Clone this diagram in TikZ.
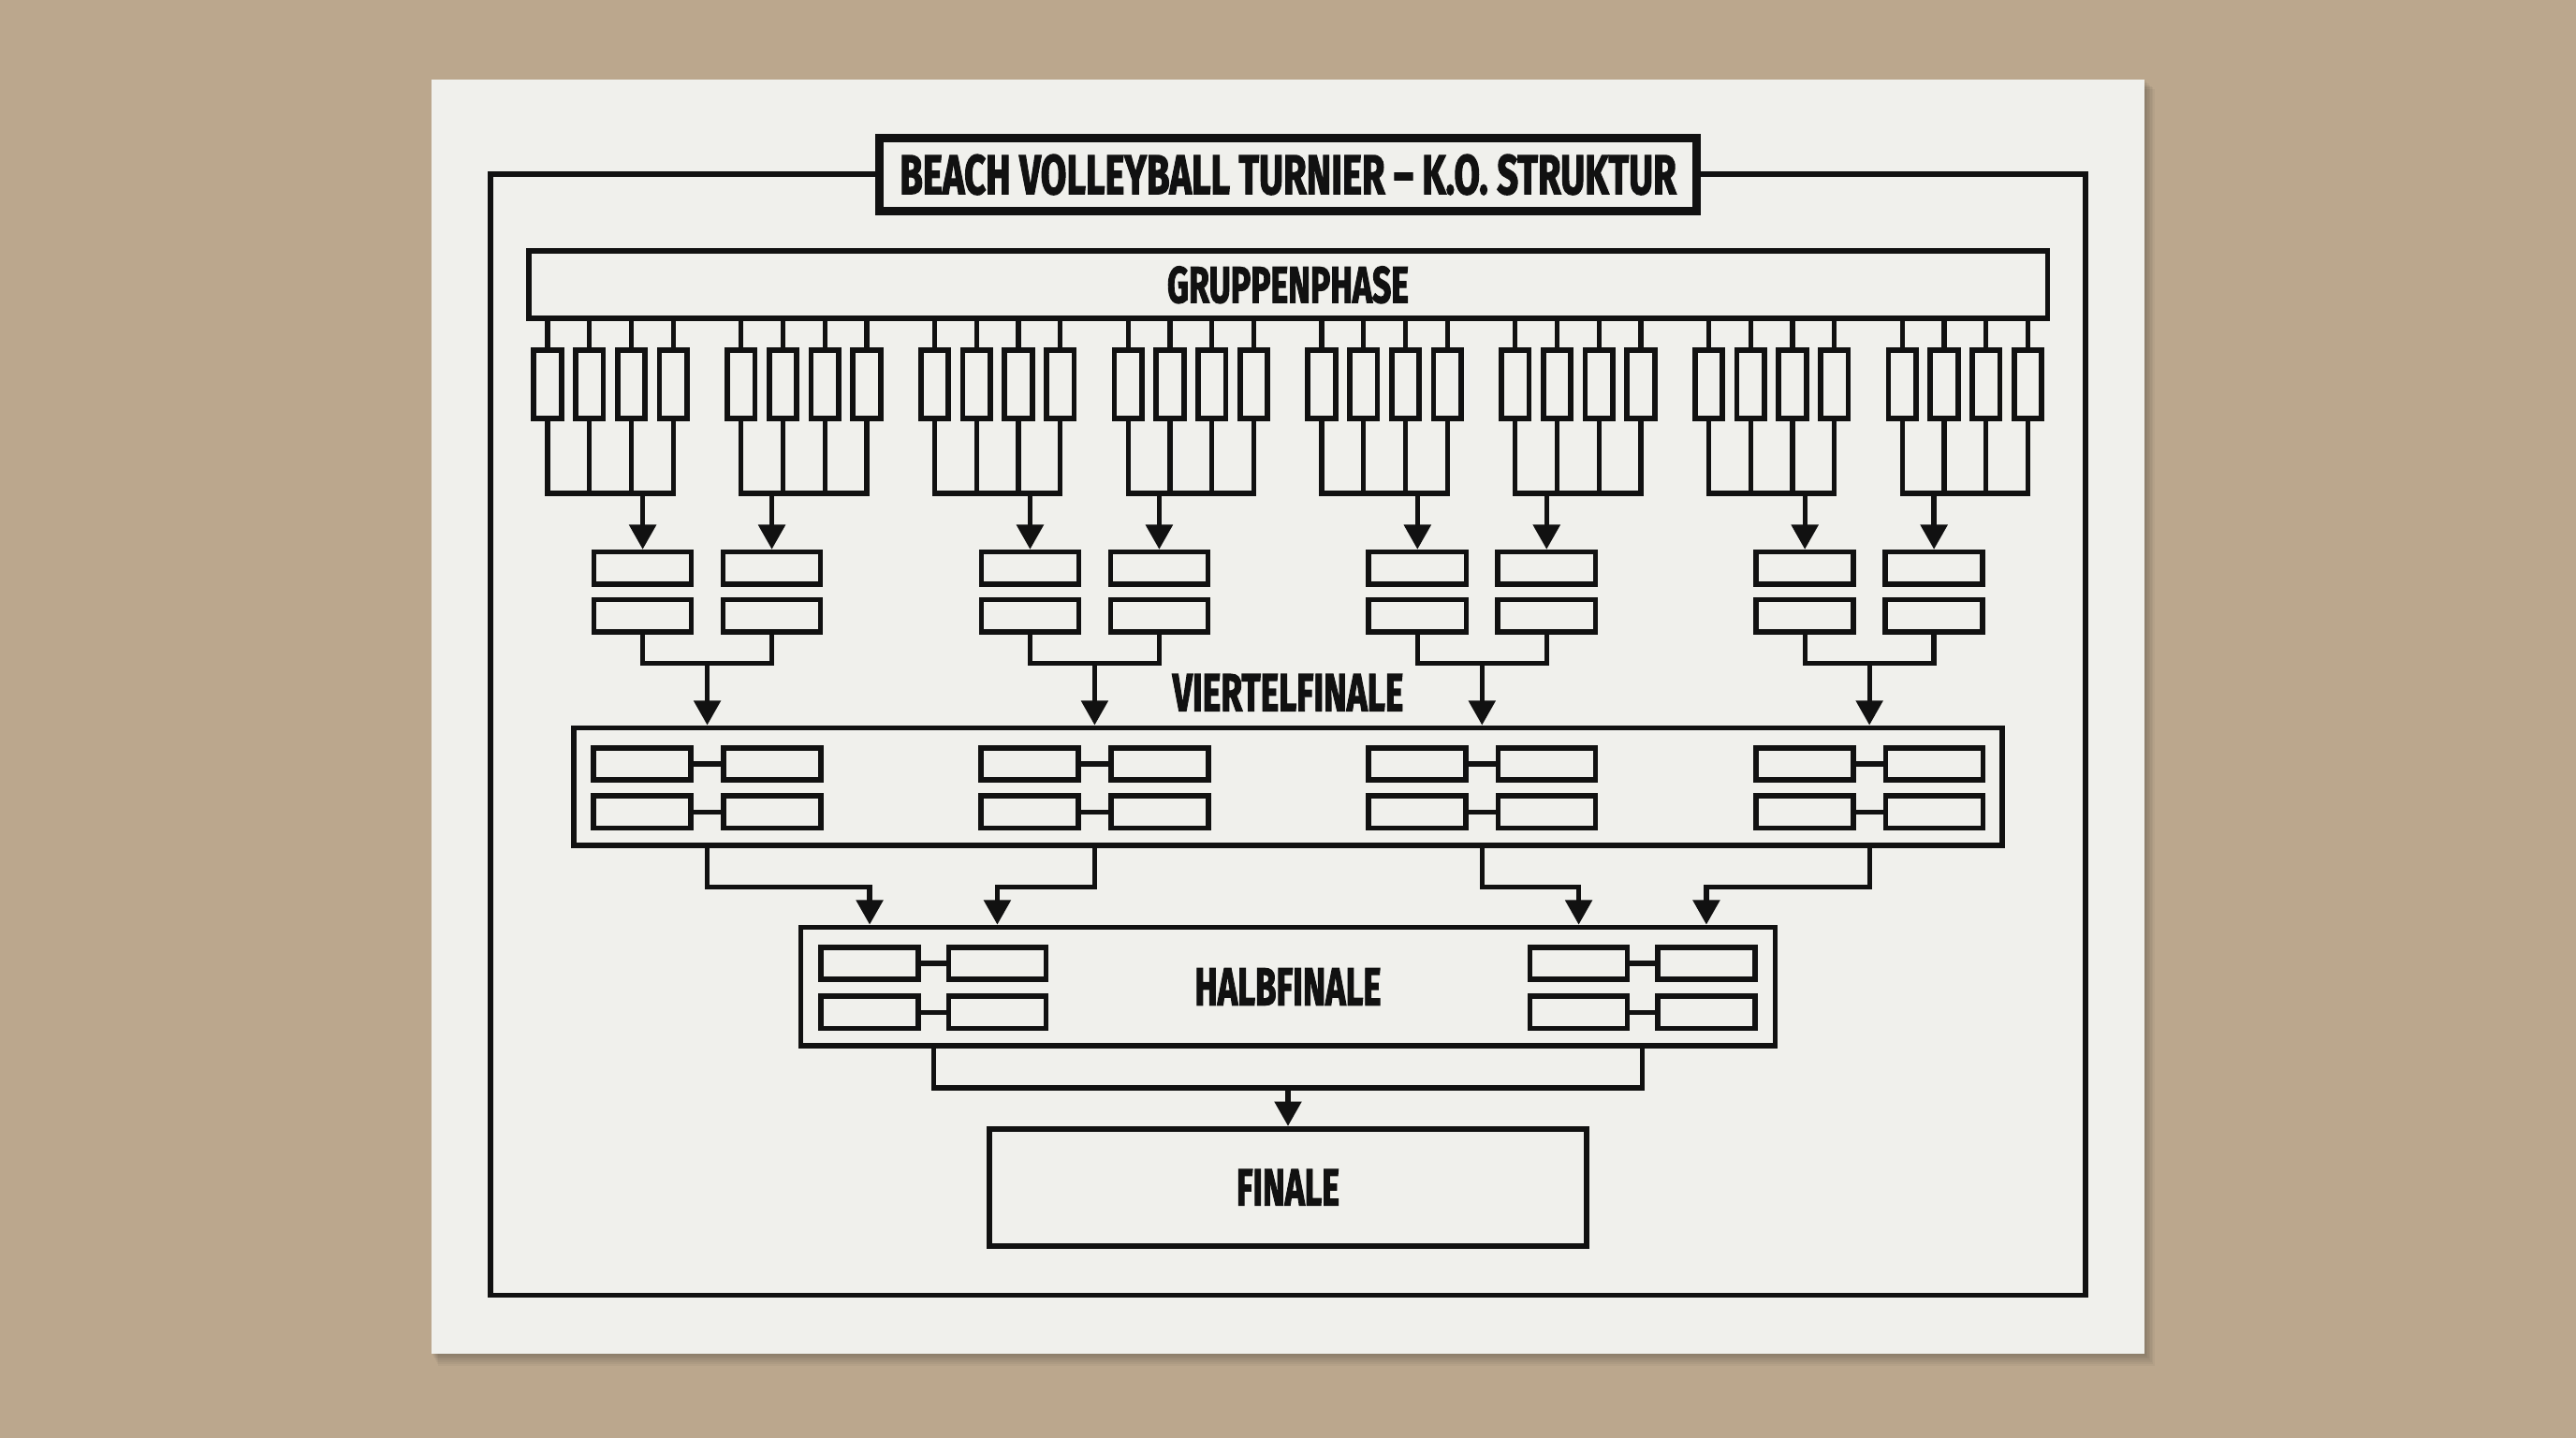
\documentclass[tikz,border=0pt]{standalone}
\usepackage{fontspec}
\usetikzlibrary{arrows.meta}
\newfontfamily\hf[BoldFeatures={FakeBold=2.5}]{Fira Sans}
\definecolor{paper}{HTML}{F0F0EC}
\definecolor{wood}{HTML}{BBA78D}
\definecolor{ink}{HTML}{111111}
\tikzset{
  ln/.style={draw=ink, line width=1.5mm},
  arr/.style={ln, -{Triangle[length=7.5mm,width=8mm]}},
  tbox/.style={draw=ink, line width=1.65mm, minimum width=8.4mm, minimum height=20.8mm, inner sep=0pt},
  cell/.style={draw=ink, line width=1.6mm, minimum width=29.65mm, minimum height=9.8mm, inner sep=0pt},
  big/.style={draw=ink, line width=1.65mm, inner sep=0pt, text=ink},
  lbl/.style={inner sep=0pt, text=ink}
}
\begin{document}
\begin{tikzpicture}[x=0.5mm,y=-0.5mm]
\useasboundingbox (0,0) rectangle (1568,875);
\fill[wood] (0,0) rectangle (1568,875);
% paper shadow
\foreach \d in {1,...,7}{
  \fill[black,opacity=0.035] ({262.7+0.6*\d},{48.4+0.8*\d}) rectangle ({1305.3+0.9*\d},{823.7+1.1*\d});
}
\fill[paper] (262.7,48.4) rectangle (1305.3,823.7);
% outer frame
\draw[draw=ink, line width=1.6mm] (298.4,105.9) rectangle (1269.6,788.3);
% title
\node[draw=ink, line width=2.6mm, fill=paper, text=ink, minimum width=248.5mm, minimum height=22.3mm, inner sep=0pt] (title) at (784,106.3)
  {\resizebox{236.25mm}{12mm}{\hf\bfseries BEACH VOLLEYBALL TURNIER – K.O. STRUKTUR}};
% main boxes
\node[big, minimum width=462.3mm, minimum height=20.55mm] (grp) at (784,173.35)
  {\resizebox{73.5mm}{11mm}{\hf\bfseries GRUPPENPHASE}};
\node[big, minimum width=434.6mm, minimum height=35.65mm] (vf) at (784,478.65) {};
\node[lbl] (vflbl) at (784,421.5) {\resizebox{70.25mm}{11.15mm}{\hf\bfseries VIERTELFINALE}};
\node[big, minimum width=296.6mm, minimum height=36.1mm] (hf) at (784,600.5)
  {\resizebox{56.7mm}{11.2mm}{\hf\bfseries HALBFINALE}};
\node[big, minimum width=181.6mm, minimum height=35.6mm] (fin) at (784,722.6)
  {\resizebox{31.35mm}{10.9mm}{\hf\bfseries FINALE}};
% second-round cells and quarterfinal cells
\foreach \k in {0,...,3}{
  \pgfmathsetmacro\px{430.5+235.8*\k}
  \foreach \c/\dx in {0/-39.3,1/39.3}{
    \node[cell] (s-\k-\c-1) at ({\px+(\dx)},345.75) {};
    \node[cell] (s-\k-\c-2) at ({\px+(\dx)},374.8) {};
  }
  \coordinate (m-\k) at (\px,403.5);
  \draw[ln] (s-\k-0-2.south) |- (m-\k) -| (s-\k-1-2.south);
  \draw[arr] (m-\k) -- (m-\k |- vf.north);
  \foreach \r/\ry in {1/464.9,2/494.1}{
    \node[cell] (v-\k-0-\r) at ({\px-39.5},\ry) {};
    \node[cell] (v-\k-1-\r) at ({\px+39.5},\ry) {};
    \draw[ln] (v-\k-0-\r.east) -- (v-\k-1-\r.west);
  }
}
% group stage columns
\foreach \g in {0,...,7}{
  \pgfmathsetmacro\gx{333.3+117.8*\g}
  \pgfmathtruncatemacro\k{int(\g/2)}
  \pgfmathtruncatemacro\c{mod(\g,2)}
  \foreach \j in {1,...,4}{
    \node[tbox] (t-\g-\j) at ({\gx+25.5*(\j-1)},234.1) {};
    \draw[ln] (t-\g-\j.north) -- (t-\g-\j.north |- grp.south);
  }
  \coordinate (b-\g) at (s-\k-\c-1.north |- 0,300.3);
  \draw[ln] (t-\g-1.south) |- (t-\g-4.south |- b-\g) -- (t-\g-4.south);
  \draw[ln] (t-\g-2.south) -- (t-\g-2.south |- b-\g);
  \draw[ln] (t-\g-3.south) -- (t-\g-3.south |- b-\g);
  \draw[arr] (b-\g) -- (s-\k-\c-1.north);
}
% semifinal cells
\foreach \q/\qx in {0/568.2,1/999.8}{
  \coordinate (q-\q) at (\qx,600.5);
  \foreach \r/\ry in {1/586.3,2/616}{
    \node[cell] (h-\q-0-\r) at ({\qx-38.85},\ry) {};
    \node[cell] (h-\q-1-\r) at ({\qx+38.85},\ry) {};
    \draw[ln] (h-\q-0-\r.east) -- (h-\q-1-\r.west);
  }
}
% quarterfinal -> semifinal
\foreach \k/\tx in {0/529.35,1/607.05,2/960.95,3/1038.65}{
  \coordinate (j-\k) at (\tx,540);
  \draw[arr] (m-\k |- vf.south) |- (j-\k) -- (j-\k |- hf.north);
}
% semifinal -> final
\coordinate (f) at (784,662);
\draw[ln] (q-0 |- hf.south) |- (f) -| (q-1 |- hf.south);
\draw[arr] (f) -- (fin.north);
\end{tikzpicture}
\end{document}
